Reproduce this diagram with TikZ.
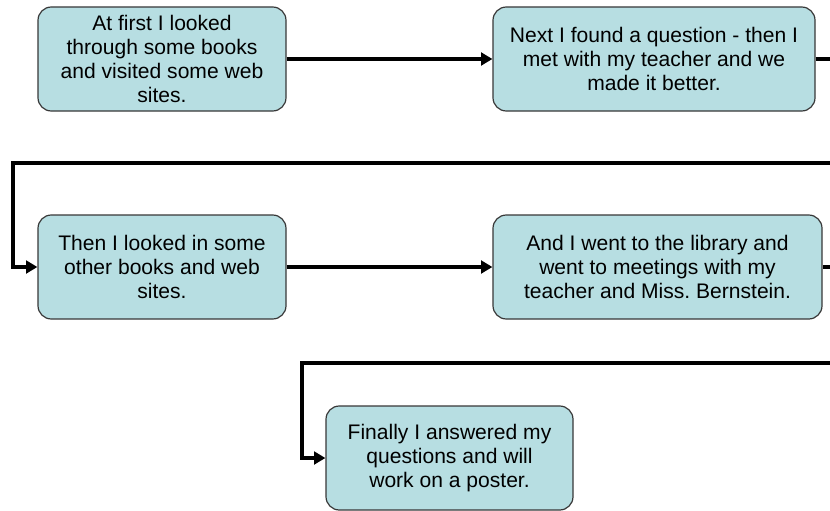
\documentclass[tikz,border=0pt]{standalone}
\usepackage{fontspec}
\setmainfont{Liberation Sans}
\usetikzlibrary{arrows.meta}
\definecolor{boxfill}{RGB}{183,222,226}
\definecolor{boxline}{RGB}{56,56,56}
\frenchspacing
\begin{document}
\begin{tikzpicture}[x=0.75pt,y=-0.75pt,
    stepbox/.style={draw=boxline,line width=0.9pt,fill=boxfill,rounded corners=10pt,
      align=center,minimum height=78pt,inner sep=2pt,
      font=\fontsize{15.8}{18.2}\selectfont},
    link/.style={line width=2.8pt,-{Triangle[length=8.5pt,width=9.5pt]}}]
      \useasboundingbox (0,0) rectangle (830,510);
      \clip (0,0) rectangle (830,510);
      \draw
        (162,59) node[stepbox,minimum width=186pt] (b1){At first I looked\\through some books\\and visited some web\\sites.}
        (654,59) node[stepbox,minimum width=241.5pt] (b2){Next I found a question - then I\\met with my teacher and we\\made it better.}
        (162,267) node[stepbox,minimum width=186pt] (b3){Then I looked in some\\other books and web\\sites.}
        (657.5,267) node[stepbox,minimum width=246.75pt] (b4){And I went to the library and\\went to meetings with my\\teacher and Miss. Bernstein.}
        (449.5,458) node[stepbox,minimum width=185.25pt] (b5){Finally I answered my\\questions and will\\work on a poster.};
      \begin{scope}[link]
        \draw (b1) to (b2);
        \draw (b2.east) -- (850,59) |- (13,163) |- (b3.west);
        \draw (b3) to (b4);
        \draw (b4.east) -- (850,267) |- (302,363) |- (b5.west);
      \end{scope}
    \end{tikzpicture}
\end{document}
